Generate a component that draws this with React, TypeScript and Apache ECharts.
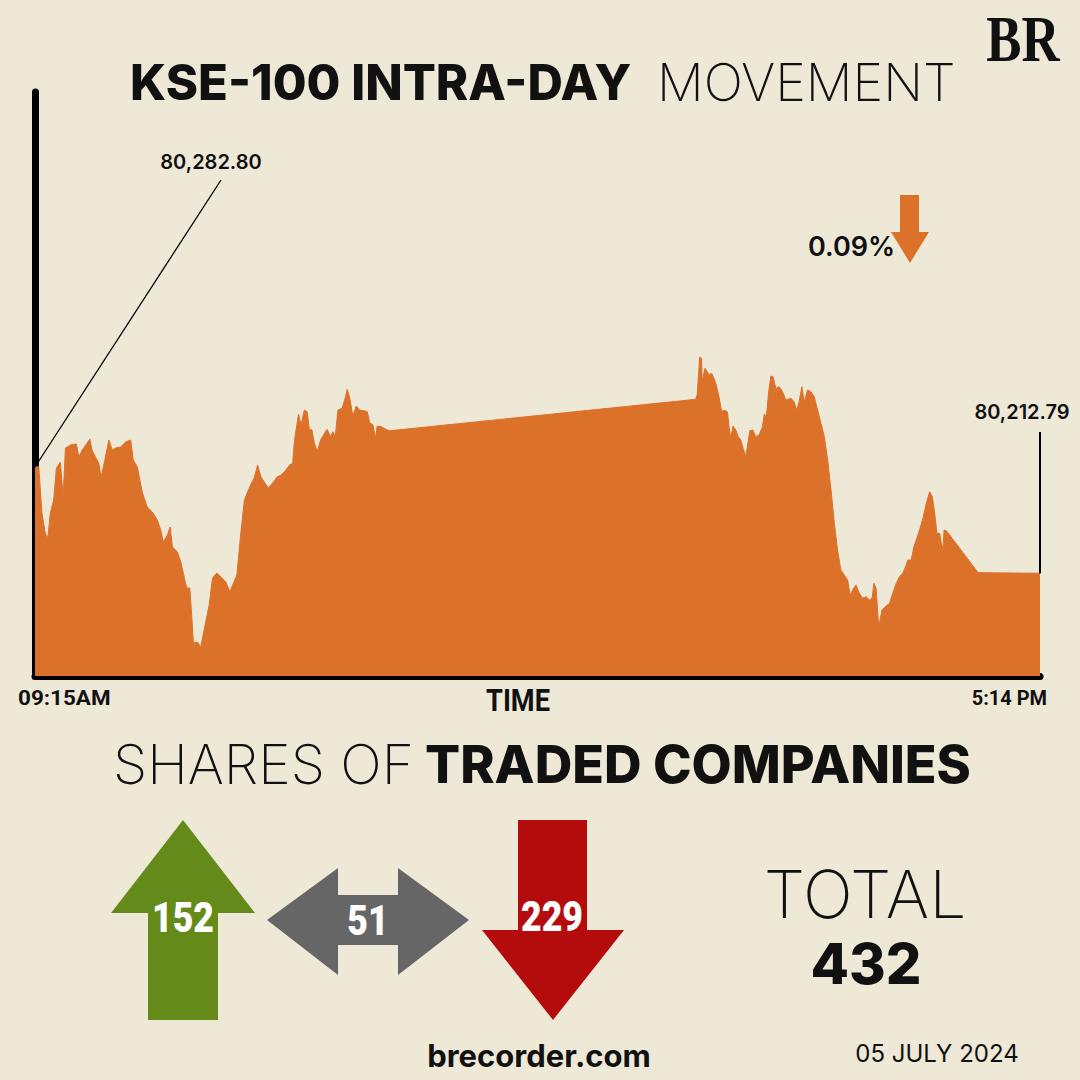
import React, { useEffect, useRef } from "react";
import * as echarts from "echarts";

// Minutes after 09:15 (session break 12:00-14:30 on Friday)
const minutesAfterOpen = [
  0, 1.8, 3.3, 4.9, 6.1, 7.3, 8.9, 10.2, 12.1, 13.4, 14.5, 16.9, 19.7, 20.9, 22.5, 24.9, 26.1, 27.2, 28.8, 30.4,
  31.5, 33.1, 35.2, 36.8, 38.4, 40.8, 43.2, 45.6, 46.8, 48.8, 51.1, 53.5, 55.9, 58.3, 59.9, 61.2, 63.1, 64.4, 65.5, 67.9,
  69.5, 71.1, 72.3, 73.8, 74.6, 75.5, 77.4, 79.0, 80.6, 83.0, 84.6, 86.7, 88.6, 91.0, 92.9, 94.2, 96.2, 98.1, 99.8, 101.3,
  103.2, 104.5, 106.1, 107.7, 109.6, 111.2, 113.3, 115.3, 117.3, 119.6,
  121.3, 122.8, 123.7, 124.9, 125.6, 126.8, 128.4, 129.7, 130.8, 131.9, 133.2, 134.5, 136.1, 138.0, 139.2, 140.9, 142.0, 143.1, 144.4, 146.3,
  147.6, 148.8, 149.9, 151.5, 153.1, 154.7, 156.8, 158.4, 159.5, 161.1, 162.2, 163.1, 165.1, 167.4, 169.1,
  314.9, 315.6, 316.8, 317.7, 318.0, 319.3, 320.4, 321.2, 322.5, 323.6, 324.7, 326.0, 327.3, 328.4, 330.0, 330.8, 331.6, 332.7, 334.0, 335.2,
  336.4, 337.5, 338.8, 340.0, 340.7, 342.2, 343.5, 345.1, 346.7, 347.6, 348.6, 349.6, 350.7, 351.8, 353.1, 354.7,
  356.3, 357.9, 360.3, 361.8, 363.0, 364.2, 365.5, 366.6, 368.2, 369.8, 371.4, 373.0, 374.6, 376.2, 377.8, 379.4, 381.0, 382.5, 384.1, 385.7,
  387.3, 388.5, 389.7, 391.3, 392.9, 394.5, 396.1, 397.7, 399.0, 399.8, 400.9, 402.1, 403.7, 405.3, 407.3, 408.8, 410.5, 412.0, 413.6, 414.9,
  416.0, 417.6, 418.9, 420.0, 421.6, 423.2, 424.8, 426.4, 427.7, 428.8, 429.9, 431.2, 432.1, 432.8, 433.3, 434.4, 449.5, 479,
];

const indexValues = [
  80282.8, 80283.0, 80252.5, 80239.3, 80236.0, 80252.5, 80261.1, 80282.1, 80286.1, 80263.0, 80295.3, 80297.3, 80298.0, 80289.4, 80294.0, 80298.6, 80301.2, 80294.0, 80289.4, 80285.4,
  80276.2, 80286.1, 80300.6, 80294.0, 80295.3, 80296.0, 80299.3, 80300.6, 80287.4, 80282.8, 80266.3, 80256.4, 80253.2, 80247.9, 80241.3, 80233.4, 80238.0, 80243.3, 80230.1, 80226.8,
  80220.2, 80210.3, 80203.1, 80203.1, 80186.6, 80166.9, 80167.5, 80164.2, 80175.4, 80191.9, 80209.7, 80213.0, 80210.3, 80207.0, 80200.5, 80205.1, 80211.7, 80239.3, 80261.1, 80266.3,
  80272.3, 80275.6, 80284.1, 80276.2, 80272.3, 80269.0, 80272.3, 80276.2, 80277.5, 80280.8,
  80284.1, 80285.2, 80300.6, 80311.6, 80317.7, 80310.5, 80320.3, 80319.2, 80307.2, 80307.6, 80298.4, 80292.9, 80300.6, 80305.0, 80307.6, 80302.8, 80306.1, 80302.8, 80320.3, 80321.5,
  80326.9, 80334.0, 80329.1, 80316.4, 80323.0, 80320.3, 80319.9, 80319.2, 80312.0, 80310.5, 80301.7, 80309.8, 80309.3, 80307.6, 80306.7,
  80327.4, 80330.2, 80355.1, 80354.4, 80339.0, 80347.8, 80345.6, 80343.4, 80344.5, 80341.2, 80336.8, 80329.1, 80319.2, 80320.3, 80319.2, 80309.3, 80301.7, 80309.8, 80307.2, 80302.8,
  80300.6, 80295.1, 80289.6, 80300.6, 80306.7, 80307.2, 80302.8, 80303.9, 80309.3, 80317.7, 80315.9, 80331.4, 80342.7, 80342.3, 80334.6, 80335.7,
  80332.4, 80326.9, 80328.1, 80325.8, 80320.3, 80325.8, 80335.7, 80325.8, 80333.5, 80332.4, 80329.1, 80320.3, 80311.6, 80302.8, 80287.4, 80267.6, 80245.7, 80228.1, 80214.9, 80211.7,
  80208.4, 80198.5, 80201.8, 80205.1, 80199.6, 80196.3, 80197.4, 80195.2, 80196.3, 80206.2, 80202.9, 80177.6, 80188.6, 80190.8, 80193.0, 80199.6, 80206.2, 80210.5, 80212.8, 80217.1,
  80221.5, 80221.5, 80230.3, 80234.7, 80241.3, 80249.0, 80258.9, 80266.5, 80263.2, 80252.3, 80239.1, 80239.1, 80231.4, 80230.3, 80241.3, 80240.8, 80213.2, 80212.79,
];

const openLabel = "80,282.80";
const closeLabel = "80,212.79";
const changeLabel = "0.09%";
const timeLabels = ["09:15AM", "5:14 PM"];
const companyCounts = [152, 51, 229]; // advanced, unchanged, declined
const totalCompanies = 432;
const dateLabel = "05 JULY 2024";

const BG = "#EEE8D7";
const ORANGE = "#DC722A";
const GREEN = "#648B1A";
const GRAY = "#666666";
const RED = "#B40C0C";

export default function App() {
  const ref = useRef<HTMLDivElement>(null);

  useEffect(() => {
    if (!ref.current) return;
    const chart = echarts.init(ref.current, null, { renderer: "svg" });
    const data = minutesAfterOpen.map((t, i) => [t, indexValues[i]]);

    const txt = (text: string, x: number, y: number, o: any = {}) => ({
      type: "text",
      x,
      y,
      scaleX: o.scaleX ?? 1,
      z: 10,
      style: {
        text,
        fill: o.fill ?? "#111",
        fontFamily: o.fontFamily ?? "Inter",
        fontSize: o.fontSize ?? 20,
        fontWeight: o.fontWeight ?? 700,
        align: o.align ?? "left",
        verticalAlign: "middle",
      },
    });

    chart.setOption({
      animation: false,
      backgroundColor: BG,
      grid: { left: 35, right: 40, top: 92, bottom: 404 },
      xAxis: {
        type: "value",
        min: 0,
        max: 479,
        axisLine: { show: true, onZero: false, lineStyle: { color: "#000", width: 7, cap: "round" } },
        axisTick: { show: false },
        axisLabel: { show: false },
        splitLine: { show: false },
      },
      yAxis: {
        type: "value",
        min: 80145.1,
        max: 80529.9,
        axisLine: { show: true, onZero: false, lineStyle: { color: "#000", width: 7 } },
        axisTick: { show: false },
        axisLabel: { show: false },
        splitLine: { show: false },
      },
      series: [
        {
          type: "line",
          data,
          symbol: "none",
          z: 1,
          lineStyle: { color: ORANGE, width: 1 },
          areaStyle: { color: ORANGE, opacity: 1, origin: "start" },
        },
      ],
    });

    const p0 = chart.convertToPixel({ gridIndex: 0 }, data[0]) as number[];
    const pN = chart.convertToPixel({ gridIndex: 0 }, data[data.length - 1]) as number[];

    chart.setOption({
      graphic: [
        // BR logo
        txt("BR", 1023, 39, { fontFamily: "Liberation Serif", fontSize: 66, fontWeight: 700, align: "center", scaleX: 0.8 }),
        // title
        txt("KSE-100 INTRA-DAY", 130, 82, { fontSize: 49, fontWeight: 800 }),
        txt("MOVEMENT", 657, 82, { fontSize: 52, fontWeight: 200 }),
        // annotations
        { type: "line", z: 5, shape: { x1: p0[0], y1: p0[1], x2: 221, y2: 180 }, style: { stroke: "#000", lineWidth: 1.3 } },
        txt(openLabel, 211, 162, { fontSize: 20, fontWeight: 600, align: "center" }),
        { type: "line", z: 5, shape: { x1: pN[0], y1: pN[1], x2: pN[0], y2: 432 }, style: { stroke: "#000", lineWidth: 2 } },
        txt(closeLabel, 1022, 412, { fontSize: 20, fontWeight: 600, align: "center" }),
        txt(changeLabel, 808, 246, { fontSize: 27, fontWeight: 600 }),
        {
          type: "polygon",
          z: 5,
          shape: { points: [[900, 195], [919, 195], [919, 232], [929, 232], [910, 263], [891, 232], [900, 232]] },
          style: { fill: ORANGE },
        },
        // axis labels
        txt(timeLabels[0], 18, 698, { fontFamily: "Roboto", fontSize: 21, fontWeight: 700, scaleX: 1.07 }),
        txt("TIME", 518, 700, { fontFamily: "Roboto", fontSize: 32, fontWeight: 700, align: "center", scaleX: 0.85 }),
        txt(timeLabels[1], 1047, 698, { fontFamily: "Roboto", fontSize: 21, fontWeight: 700, align: "right", scaleX: 0.95 }),
        // shares section
        txt("SHARES OF", 113, 764, { fontSize: 55, fontWeight: 200 }),
        txt("TRADED COMPANIES", 425, 764, { fontSize: 52, fontWeight: 800 }),
        {
          type: "polygon",
          shape: { points: [[183, 820], [255, 913], [218, 913], [218, 1020], [148, 1020], [148, 913], [111, 913]] },
          style: { fill: GREEN },
        },
        {
          type: "polygon",
          shape: {
            points: [[267, 920], [338, 868], [338, 895], [398, 895], [398, 868], [469, 920], [398, 975], [398, 945], [338, 945], [338, 975]],
          },
          style: { fill: GRAY },
        },
        {
          type: "polygon",
          shape: { points: [[518, 820], [587, 820], [587, 930], [624, 930], [553, 1020], [482, 930], [518, 930]] },
          style: { fill: RED },
        },
        txt(String(companyCounts[0]), 183, 918, { fontFamily: "Roboto", fontSize: 42, fontWeight: 900, align: "center", fill: "#fff", scaleX: 0.85 }),
        txt(String(companyCounts[1]), 368, 921, { fontFamily: "Roboto", fontSize: 42, fontWeight: 900, align: "center", fill: "#fff", scaleX: 0.85 }),
        txt(String(companyCounts[2]), 552, 917, { fontFamily: "Roboto", fontSize: 42, fontWeight: 900, align: "center", fill: "#fff", scaleX: 0.85 }),
        txt("TOTAL", 865, 894, { fontSize: 66, fontWeight: 200, align: "center" }),
        txt(String(totalCompanies), 866, 964, { fontSize: 56, fontWeight: 800, align: "center" }),
        txt("brecorder.com", 539, 1055, { fontSize: 31, fontWeight: 700, align: "center" }),
        txt(dateLabel, 937, 1053, { fontSize: 24, fontWeight: 400, align: "center" }),
      ],
    });

    return () => chart.dispose();
  }, []);

  return <div ref={ref} style={{ position: "fixed", left: 0, top: 0, width: 1080, height: 1080 }} />;
}
